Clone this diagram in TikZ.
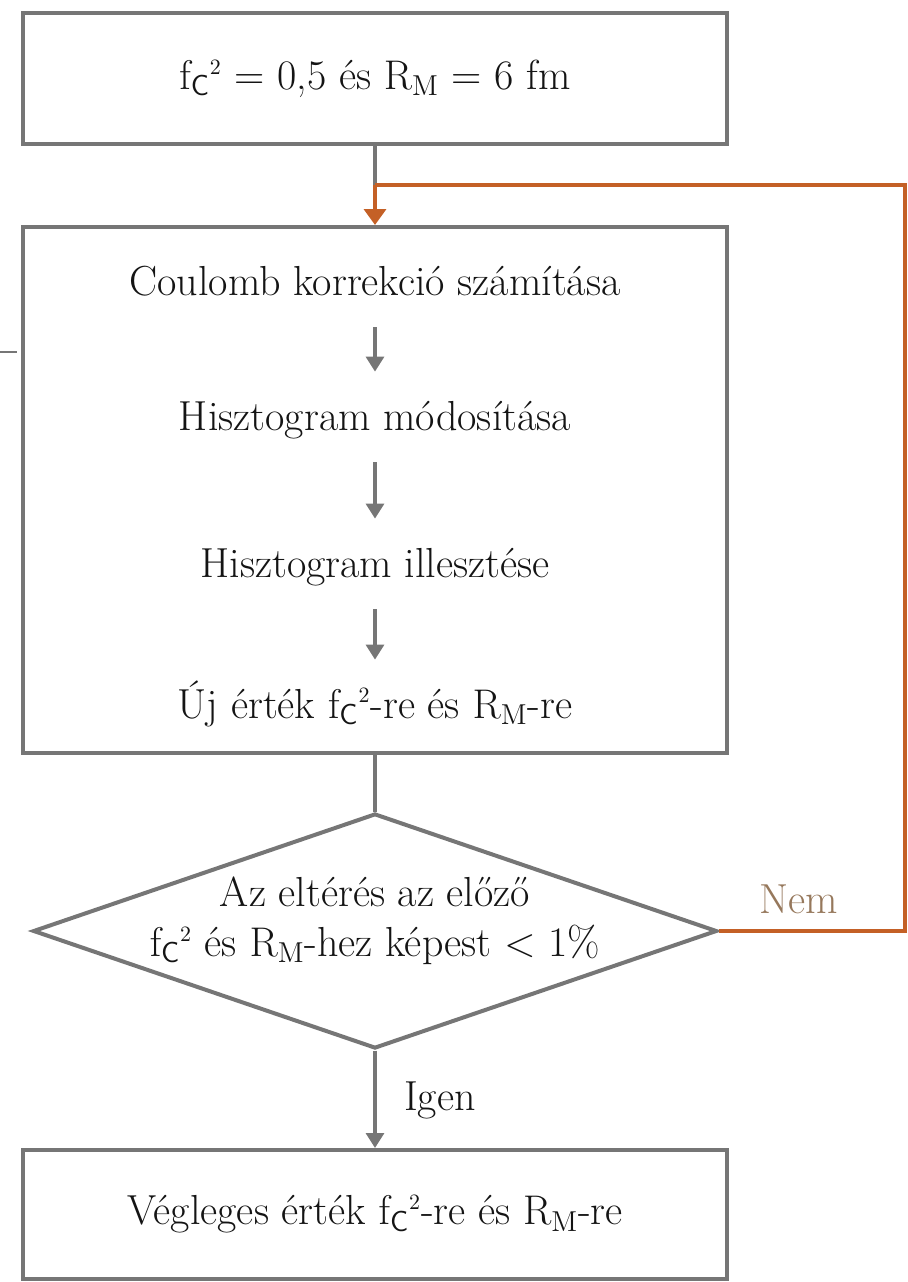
\documentclass[tikz,border=0pt]{standalone}
\usepackage{xcolor}
\usepackage{tikz}
\usetikzlibrary{arrows.meta,shapes.geometric}

\definecolor{boxgray}{RGB}{118,118,118}
\definecolor{loopor}{RGB}{196,96,38}
\definecolor{nemcol}{RGB}{150,120,92}
\definecolor{txtcol}{RGB}{20,20,20}

\newcommand{\fC}{$\mathrm{f}_{\mathsf{C}}{}^{\scriptscriptstyle 2}$}
\newcommand{\RMx}{$\mathrm{R}_{\mathrm{M}}$}

\begin{document}
\begin{tikzpicture}[x=0.5pt, y=-0.5pt,
    every node/.style={font=\fontsize{21}{25}\selectfont, text=txtcol},
    box/.style={draw=boxgray, line width=2pt, minimum width=352pt, inner sep=0pt},
    decision/.style={diamond, draw=boxgray, line width=2pt, minimum width=342pt, minimum height=117.5pt, inner sep=0pt},
    txt/.style={anchor=base, inner sep=0pt, text height=15pt, text depth=4pt},
    line/.style={draw=boxgray, line width=1.6pt},
    flow/.style={line, -{Triangle[length=7.5pt,width=9pt]}},
    back/.style={draw=loopor, line width=1.8pt}]
      % frame
      \useasboundingbox (0,0) rectangle (907,1282);
      % start values
      \node[box, minimum height=65.5pt] (start) at (375,78.5) {\fC{} = 0,5 és \RMx{} = 6 fm};
      % iteration block
      \node[box, minimum height=263pt] (loop) at (375,490) {};
      \node[txt] (coul) at (375,295) {Coulomb korrekció számítása};
      \node[txt] (modo) at (375,430) {Hisztogram módosítása};
      \node[txt] (ille) at (375,577) {Hisztogram illesztése};
      \node[txt] (ujert) at (375,718) {Új érték \fC-re és \RMx-re};
      \foreach \a/\b in {coul/modo, modo/ille, ille/ujert}
        \draw[flow, shorten <=12pt, shorten >=14pt] (\a.south) -- (\b.north);
      % test
      \node[decision] (check) at (375,931) {};
      \node[align=center, inner sep=0pt] (checktxt) at (375,921)
        {Az eltérés az előző\\ \fC{} és \RMx-hez képest $<$ 1\%};
      \node[anchor=base, text=nemcol] (nem) at (799,913) {Nem};
      \node[anchor=base] (igen) at (440,1110) {Igen};
      % result
      \node[box, minimum height=64.5pt] (final) at (375,1214.5) {Végleges érték \fC-re és \RMx-re};
      % connectors
      \coordinate (join) at (375,185);
      \coordinate (turn) at (905,185);
      \draw[line] (start.south) -- (join);
      \draw[back, -{Triangle[length=8pt,width=11pt]}] (join) -- (loop.north);
      \draw[back] (check.east) -| (turn) -- (join);
      \draw[line] (loop.south) -- (check.north);
      \draw[flow] (check.south) -- (final.north);
      % stray mark
      \draw[boxgray, line width=0.6pt] (0,352) -- (17,352);
\end{tikzpicture}
\end{document}
